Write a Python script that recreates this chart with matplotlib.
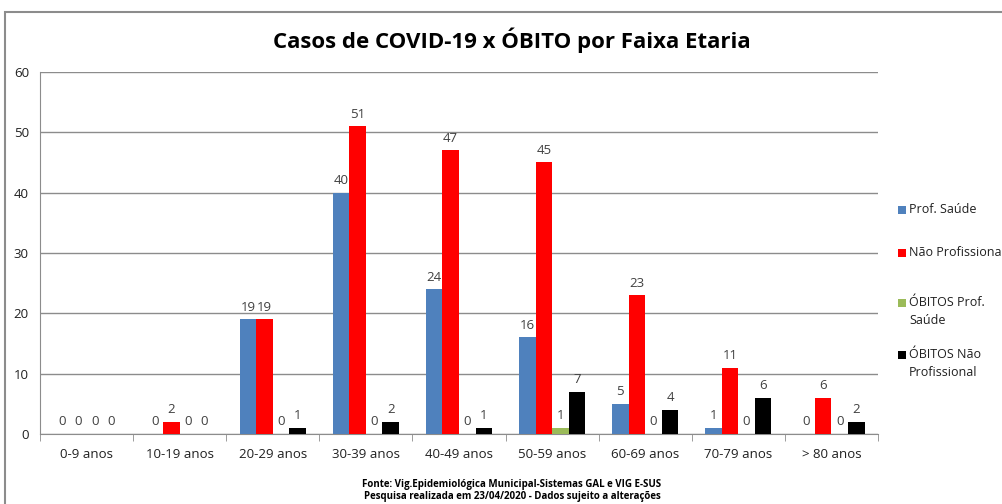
import matplotlib
matplotlib.use("Agg")
import matplotlib.pyplot as plt
from matplotlib.patches import Rectangle
import numpy as np

plt.rcParams['font.family'] = ['Open Sans', 'DejaVu Sans']

faixas = ["0-9 anos", "10-19 anos", "20-29 anos", "30-39 anos", "40-49 anos",
          "50-59 anos", "60-69 anos", "70-79 anos", "> 80 anos"]
prof_saude = [0, 0, 19, 40, 24, 16, 5, 1, 0]
nao_prof = [0, 2, 19, 51, 47, 45, 23, 11, 6]
obitos_prof = [0, 0, 0, 0, 0, 1, 0, 0, 0]
obitos_nao_prof = [0, 0, 1, 2, 1, 7, 4, 6, 2]

series = [
    ("Prof. Saúde", prof_saude, "#4F81BD"),
    ("Não Profissional", nao_prof, "#FF0000"),
    ("ÓBITOS Prof.\nSaúde", obitos_prof, "#9BBB59"),
    ("ÓBITOS Não\nProfissional", obitos_nao_prof, "#000000"),
]

fig = plt.figure(figsize=(10.03, 5.04), dpi=100)
ax = fig.add_axes([40/1003, 70/504, 838/1003, 362/504])

x = np.arange(len(faixas))
w = 0.178
for i, (nome, vals, cor) in enumerate(series):
    pos = x + (i - 1.5) * w
    ax.bar(pos, vals, w, color=cor, zorder=3)
    for p, v in zip(pos, vals):
        ax.annotate(str(v), (p, v), xytext=(0, 4), textcoords="offset points",
                    ha="center", va="bottom", fontsize=9.5, color="#404040")

ax.set_xlim(-0.5, len(faixas) - 0.5)
ax.set_ylim(0, 60)
ax.set_yticks(range(0, 61, 10))
ax.grid(axis="y", color="#8c8c8c", linewidth=1, zorder=0)
ax.set_xticks(x)
ax.set_xticklabels(faixas, fontsize=9.5, color="#202020")
ax.set_xticks(np.arange(-0.5, len(faixas), 1), minor=True)
ax.tick_params(axis="x", which="major", length=0, pad=10)
ax.tick_params(axis="x", which="minor", length=5, color="#8c8c8c")
ax.tick_params(axis="y", length=0, labelsize=9.5, labelcolor="#202020", pad=8)
for s in ["top", "right"]:
    ax.spines[s].set_visible(False)
ax.spines["left"].set_color("#8c8c8c")
ax.spines["bottom"].set_color("#8c8c8c")

fig.text(512/1003, 1 - 40/504, "Casos de COVID-19 x ÓBITO por Faixa Etaria",
         ha="center", va="center", fontsize=16, fontweight="bold")

# legenda manual (marcador alinhado com a primeira linha)
leg_y = [210, 253, 303, 355]
for (nome, _, cor), yy in zip(series, leg_y):
    fig.patches.append(Rectangle((898/1003, 1 - (yy + 4)/504), 8/1003, 8/504,
                                 transform=fig.transFigure, facecolor=cor, edgecolor="none"))
    fig.text(909/1003, 1 - (yy - 7)/504, nome, ha="left", va="top", fontsize=9,
             color="#202020", linespacing=1.5)

fig.text(512/1003, 1 - 484/504, "Fonte: Vig.Epidemiológica Municipal-Sistemas GAL e VIG E-SUS",
         ha="center", va="center", fontsize=7, fontweight="bold")
fig.text(512/1003, 1 - 497/504, "Pesquisa realizada em 23/04/2020 - Dados sujeito a alterações",
         ha="center", va="center", fontsize=7, fontweight="bold")

fig.patches.append(Rectangle((5/1003, -0.1), 1.2, 1.1 - 12/504, transform=fig.transFigure,
                             fill=False, edgecolor="#8c8c8c", linewidth=1.5))

fig.savefig("out.png", dpi=100)
